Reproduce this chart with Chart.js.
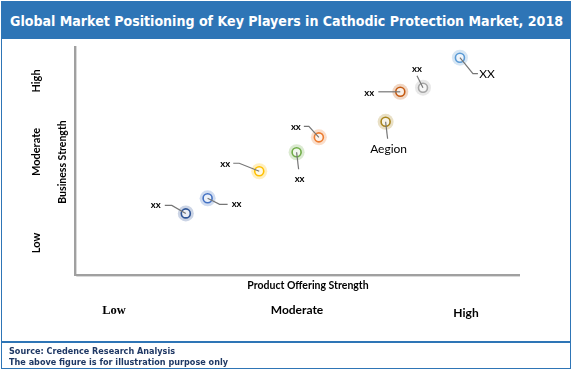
<!DOCTYPE html>
<html>
<head>
<meta charset="utf-8">
<script src="https://cdn.jsdelivr.net/npm/chart.js@4"></script>
<style>
    body { margin: 0; background: #fff; }
    #wrap { position: relative; width: 572px; height: 372px; overflow: hidden; font-family: Lato, "Open Sans", sans-serif; }
    #frame { position: absolute; left: 1px; top: 1px; width: 570px; height: 368px; box-sizing: border-box; border: 1.5px solid #2e75b6; }
    #titlebar { position: absolute; left: 2px; top: 2px; width: 568px; height: 37px; background: #2e75b6; }
    #title { position: absolute; left: 10px; top: 13px; color: #fff; font: bold 13.5px "DejaVu Sans", Verdana, sans-serif; white-space: nowrap; transform-origin: 0 0; line-height: 16px; }
    #divider { position: absolute; left: 2px; top: 341px; width: 568px; height: 1.5px; background: #2e75b6; }
    .foot { position: absolute; left: 9px; color: #1f3864; font: bold 8.5px "DejaVu Sans", Verdana, sans-serif; white-space: nowrap; line-height: 10px; transform-origin: 0 0; }
    .lbl { position: absolute; white-space: nowrap; transform: translate(-50%, -50%); font-weight: bold; color: #000; }
    .rot { transform: translate(-50%, -50%) rotate(-90deg); }
    canvas { position: absolute; left: 0; top: 0; }
</style>
</head>
<body>
<div id="wrap">
    <div id="frame"></div>
    <div id="titlebar"></div>
    <div id="title">Global Market Positioning of Key Players in Cathodic Protection Market, 2018</div>
    <canvas id="chart" width="572" height="372"></canvas>
    <div id="axisText"></div>
    <div id="divider"></div>
    <div class="foot" id="foot1" style="top:346px">Source: Credence Research Analysis</div>
    <div class="foot" id="foot2" style="top:357px">The above figure is for illustration purpose only</div>
</div>
<script>
// players on the map
const players = ['xx', 'xx', 'xx', 'xx', 'xx', 'Aegion', 'xx', 'xx', 'XX'];
const productStrength = [24.9, 29.8, 41.4, 49.8, 54.8, 69.8, 73.1, 78.2, 86.5];
const businessStrength = [26.9, 33.5, 45.3, 53.6, 60.1, 66.9, 80.0, 81.8, 94.9];
const levels = ['Low', 'Moderate', 'High'];
const xAxisTitle = 'Product Offering Strength';
const yAxisTitle = 'Business Strength';

const colors = ['#2f5597', '#4472c4', '#ffc000', '#70ad47', '#ed7d31', '#a8841c', '#c55a11', '#a5a5a5', '#5b9bd5'];

// leader line bends / label position, px relative to the point
const leaders = [
    { path: [[-14, -8], [-21, -8]], label: [-30, -8] },
    { path: [[12, 6], [20, 6]], label: [29, 6] },
    { path: [[-20, -8], [-26, -8]], label: [-34, -7] },
    { path: [[2, 17]], label: [3, 27] },
    { path: [[-10, -11], [-15, -11]], label: [-23, -10] },
    { path: [[2, 17]], label: [3, 27] },
    { path: [[-22, 0]], label: [-31, 1.5] },
    { path: [[-6, -12]], label: [-6, -19] },
    { path: [[13, 16], [18, 16]], label: [27, 16.5] }
];

function hexA(hex, a) {
    const n = parseInt(hex.slice(1), 16);
    return 'rgba(' + (n >> 16) + ',' + ((n >> 8) & 255) + ',' + (n & 255) + ',' + a + ')';
}

const points = productStrength.map((x, i) => ({ x: x, y: businessStrength[i] }));

// gray axis lines on the left and bottom
const axisLines = {
    id: 'axisLines',
    beforeDatasetsDraw(chart) {
        const { ctx, chartArea: a } = chart;
        ctx.save();
        ctx.strokeStyle = '#d9d9d9';
        ctx.lineWidth = 1;
        ctx.beginPath();
        ctx.moveTo(a.left + 1.5, a.top);
        ctx.lineTo(a.left + 1.5, a.bottom + 1.5);
        ctx.lineTo(a.right, a.bottom + 1.5);
        ctx.stroke();
        ctx.strokeStyle = '#a0a0a0';
        ctx.lineWidth = 2;
        ctx.beginPath();
        ctx.moveTo(a.left, a.top);
        ctx.lineTo(a.left, a.bottom);
        ctx.lineTo(a.right, a.bottom);
        ctx.stroke();
        ctx.restore();
    }
};

// leader lines and names
const callouts = {
    id: 'callouts',
    afterDatasetsDraw(chart) {
        const { ctx, scales } = chart;
        ctx.save();
        points.forEach((p, i) => {
            const px = scales.x.getPixelForValue(p.x);
            const py = scales.y.getPixelForValue(p.y);
            const l = leaders[i];
            ctx.strokeStyle = '#767676';
            ctx.lineWidth = 1.2;
            ctx.beginPath();
            ctx.moveTo(px, py);
            l.path.forEach(s => ctx.lineTo(px + s[0], py + s[1]));
            ctx.stroke();
            const name = players[i];
            ctx.font = name === 'xx' ? 'bold 9.5px Lato, sans-serif' : '12px Lato, sans-serif';
            ctx.fillStyle = '#000';
            ctx.textAlign = 'center';
            ctx.textBaseline = 'middle';
            ctx.fillText(name, px + l.label[0], py + l.label[1]);
        });
        ctx.restore();
    }
};

new Chart(document.getElementById('chart'), {
    type: 'scatter',
    data: {
        datasets: [{
            data: points,
            pointRadius: 4.5,
            borderWidth: 1.6,
            pointBorderColor: colors,
            pointBackgroundColor: 'rgba(255,255,255,0.6)'
        }, {
            data: points,
            pointRadius: 8,
            borderWidth: 0,
            pointBackgroundColor: colors.map(c => hexA(c, 0.25))
        }]
    },
    options: {
        responsive: false,
        animation: false,
        events: [],
        layout: { padding: { left: 75, top: 46, right: 52, bottom: 97 } },
        plugins: { legend: { display: false }, tooltip: { enabled: false } },
        scales: {
            x: { display: false, min: 0, max: 100 },
            y: { display: false, min: 0, max: 100 }
        }
    },
    plugins: [axisLines, callouts]
});

// axis texts
const axisText = document.getElementById('axisText');
function addLabel(text, x, y, font, rotate) {
    const d = document.createElement('div');
    d.className = 'lbl' + (rotate ? ' rot' : '');
    d.style.left = x + 'px';
    d.style.top = y + 'px';
    d.style.font = font;
    d.textContent = text;
    axisText.appendChild(d);
}
addLabel(levels[2], 35, 81, 'bold 11px Lato, sans-serif', true);
addLabel(levels[1], 35, 152, 'bold 11px Lato, sans-serif', true);
addLabel(levels[0], 35, 243, 'bold 11px Lato, sans-serif', true);
addLabel(yAxisTitle, 62, 162, 'bold 10.5px Lato, sans-serif', true);
addLabel(xAxisTitle, 308, 285, 'bold 10.5px Lato, sans-serif', false);
addLabel(levels[0], 114, 310, 'bold 12.5px "Liberation Serif", serif', false);
addLabel(levels[1], 297, 309, 'bold 12px Lato, sans-serif', false);
addLabel(levels[2], 466, 312, 'bold 12px Lato, sans-serif', false);

// squeeze title and footer to the reference widths
function fitWidth(id, w) {
    const el = document.getElementById(id);
    el.style.transform = 'scaleX(' + (w / el.getBoundingClientRect().width) + ')';
}
fitWidth('title', 553);
fitWidth('foot1', 166);
fitWidth('foot2', 219);
</script>
</body>
</html>
